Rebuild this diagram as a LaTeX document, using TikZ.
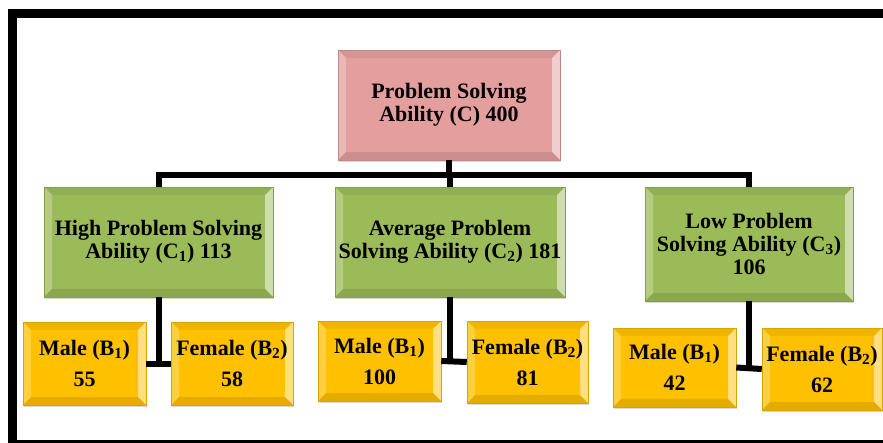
\documentclass[tikz,border=0pt]{standalone}
\usepackage{fontspec}
\setmainfont{Liberation Serif}
\usetikzlibrary{shadows}
\definecolor{pinkbox}{RGB}{228,158,158}
\definecolor{greenbox}{RGB}{155,187,89}
\definecolor{yellowbox}{RGB}{255,192,0}
\tikzset{
  bevel/.style={path picture={
    \coordinate (bsw) at (path picture bounding box.south west);
    \coordinate (bne) at (path picture bounding box.north east);
    \coordinate (bnw) at (bsw |- bne);
    \coordinate (bse) at (bne |- bsw);
    \fill[black,opacity=0.06] (bnw) -- (bne) -- ([xshift=-8pt,yshift=-8pt]bne) -- ([xshift=8pt,yshift=-8pt]bnw) -- cycle;
    \fill[white,opacity=0.25] (bnw) -- ([xshift=8pt,yshift=-8pt]bnw) -- ([xshift=8pt,yshift=8pt]bsw) -- (bsw) -- cycle;
    \fill[white,opacity=0.50] (bne) -- (bse) -- ([xshift=-8pt,yshift=8pt]bse) -- ([xshift=-8pt,yshift=-8pt]bne) -- cycle;
    \fill[black,opacity=0.10] (bsw) -- (bse) -- ([xshift=-8pt,yshift=8pt]bse) -- ([xshift=8pt,yshift=8pt]bsw) -- cycle;
  }},
  box/.style={rectangle, inner sep=0pt, align=center, bevel,
    font=\fontsize{22}{23}\selectfont\bfseries,
    drop shadow={shadow xshift=1pt, shadow yshift=-2pt, opacity=0.3}},
  topbox/.style={box, fill=pinkbox, draw=pinkbox!85!black, line width=0.5pt},
  greenbx/.style={box, fill=greenbox, draw=greenbox!85!black, line width=0.5pt},
  yellowbx/.style={box, fill=yellowbox, draw=yellowbox!85!black, line width=0.5pt},
  conn/.style={draw=black, line width=6pt, line join=miter}
}
\begin{document}
\begin{tikzpicture}[x=1pt,y=-1pt]
\useasboundingbox (0,0) rectangle (883,443);
% frame
\fill[black] (8,9) rectangle (883,18);
\fill[black] (8,9) rectangle (17,443);
\fill[black] (8,440) rectangle (883,443);
% boxes
\node[topbox, minimum width=222pt, minimum height=110pt] (top) at (449,105) {Problem Solving\\Ability (C) 400};
\node[greenbx, minimum width=229pt, minimum height=110pt] (gL) at (158.5,242) {High Problem Solving\\Ability (C\textsubscript{1}) 113};
\node[greenbx, minimum width=230pt, minimum height=110pt] (gM) at (450,242) {Average Problem\\Solving Ability (C\textsubscript{2}) 181};
\node[greenbx, minimum width=208pt, minimum height=114pt] (gR) at (749,244) {Low Problem\\Solving Ability (C\textsubscript{3})\\106};
\node[yellowbx, minimum width=123pt, minimum height=83pt] (mL) at (84.5,363.5) {Male (B\textsubscript{1})\\[8pt]55};
\node[yellowbx, minimum width=122pt, minimum height=83pt] (fL) at (232,363.5) {Female (B\textsubscript{2})\\[8pt]58};
\node[yellowbx, minimum width=123pt, minimum height=80pt] (mM) at (379.5,361) {Male (B\textsubscript{1})\\[8pt]100};
\node[yellowbx, minimum width=121pt, minimum height=82pt] (fM) at (527.5,362) {Female (B\textsubscript{2})\\[8pt]81};
\node[yellowbx, minimum width=123pt, minimum height=79pt] (mR) at (674.5,367.5) {Male (B\textsubscript{1})\\[8pt]42};
\node[yellowbx, minimum width=120pt, minimum height=82pt] (fR) at (822,369) {Female (B\textsubscript{2})\\[8pt]62};
% connectors
\coordinate (bar) at (0,175);
\draw[conn] (top.south) -- (top.south |- bar);
\draw[conn] (gL.north) -- (gL.north |- bar) -- (gR.north |- bar) -- (gR.north);
\draw[conn] (gM.north) -- (gM.north |- bar);
\draw[conn] (gL.south) -- (gL.south |- mL.east);
\draw[conn] (mL.east) -- (fL.west);
\draw[conn] (gM.south) -- (gM.south |- mM.east);
\draw[conn] (mM.east) -- (fM.west);
\draw[conn] (gR.south) -- (gR.south |- mR.east);
\draw[conn] (mR.east) -- (fR.west);
\end{tikzpicture}
\end{document}
